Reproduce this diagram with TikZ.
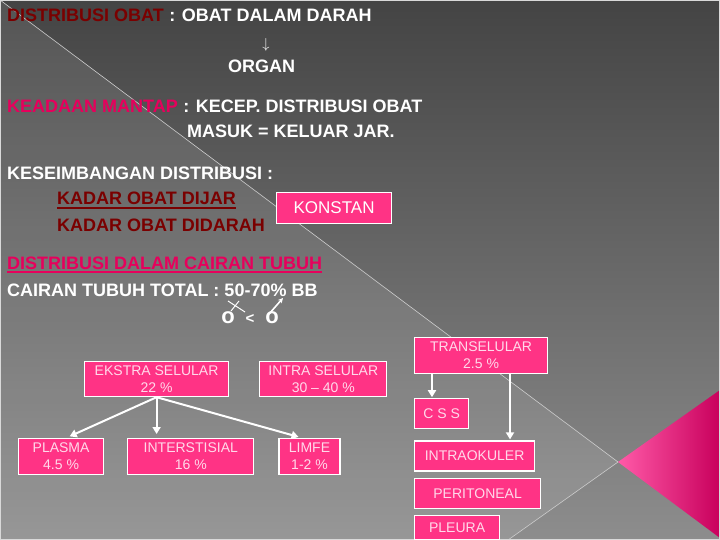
\documentclass[tikz,border=0pt]{standalone}
\usepackage{fontspec}
\setmainfont{Liberation Sans}
\usetikzlibrary{positioning,arrows.meta}
\definecolor{bgtop}{HTML}{444444}
\definecolor{bgbot}{HTML}{8D8D8D}
\definecolor{darkred}{HTML}{7A0000}
\definecolor{hotpink}{HTML}{E6005C}
\definecolor{boxpink}{HTML}{FF3385}
\definecolor{boxtext}{HTML}{FFD9EA}
\definecolor{tripink}{HTML}{FF5AA8}
\definecolor{trideep}{HTML}{C8005C}
\tikzset{
  headtxt/.style={font=\fontsize{18}{18}\selectfont\bfseries, text=white, inner sep=0pt, anchor=base west},
  pinkbox/.style={draw=white, line width=1.2pt, fill=boxpink, text=boxtext, font=\fontsize{14}{17}\selectfont, align=center, inner sep=0pt, anchor=north west},
  arr/.style={draw=white, line width=2pt, -{Triangle[length=7pt,width=8pt]}, shorten >=4pt}
}
\begin{document}
\begin{tikzpicture}[x=1pt,y=-1pt]
\useasboundingbox (0,0) rectangle (720,540);
\shade[top color=bgtop, bottom color=bgbot] (0,0) rectangle (720,540);
\fill[white, opacity=0.09] (0,0) -- (618,462) -- (508,540) -- (0,540) -- cycle;
\draw[gray!40!white, line width=0.6pt] (0,0) -- (618,462) -- (508,540);
\shade[left color=tripink, right color=trideep] (618,462) -- (720,390) -- (720,538) -- cycle;
\draw[gray!30!white, line width=1.5pt] (0,0) rectangle (720,540);

\node[headtxt, text=darkred] (dobat) at (7,22) {DISTRIBUSI OBAT};
\node[headtxt, base right=0pt of dobat] (darah) {\ : OBAT DALAM DARAH};
\node[text=white, font=\fontsize{14}{14}\selectfont, inner sep=0pt] (panah) at (266,45) {$\downarrow$};
\node[headtxt] (organ) at (228,73) {ORGAN};
\node[headtxt, text=hotpink] (mantap) at (7,113) {KEADAAN MANTAP};
\node[headtxt, base right=0pt of mantap] (kecep) {\ : KECEP. DISTRIBUSI OBAT};
\node[headtxt] (masuk) at (187,138) {MASUK = KELUAR JAR.};
\node[headtxt] (seimbang) at (7,180) {KESEIMBANGAN DISTRIBUSI :};
\node[headtxt, text=darkred] (dijar) at (57,205) {KADAR OBAT DIJAR};
\node[headtxt, text=darkred] (didarah) at (57,231) {KADAR OBAT DIDARAH};
\node[pinkbox, text=white, font=\fontsize{17}{17}\selectfont, minimum width=115pt, minimum height=31pt] (konstan) at (276,192) {KONSTAN};
\node[headtxt, text=hotpink] (cairan) at (7,269) {DISTRIBUSI DALAM CAIRAN TUBUH};
\node[headtxt] (total) at (7,296) {CAIRAN TUBUH TOTAL : 50-70\% BB};
\node[headtxt, anchor=center, font=\fontsize{22}{22}\selectfont\bfseries] (venus) at (228,318) {o};
\node[headtxt, anchor=center, font=\fontsize{15}{15}\selectfont\bfseries] (kurang) at (250,319) {<};
\node[headtxt, anchor=center, font=\fontsize{22}{22}\selectfont\bfseries] (mars) at (272,318) {o};
\draw[white, line width=1pt] ([shift={(0,-17)}]venus.center) -- ([shift={(17,-6)}]venus.center)
  ([shift={(3,-7)}]venus.center) -- ([shift={(11,-17)}]venus.center);
\draw[white, line width=1.6pt, -{Stealth[length=5pt,width=5pt]}] ([shift={(-3,-4)}]mars.center) -- ([shift={(11,-20)}]mars.center);
\draw[darkred, line width=1.5pt] ([yshift=-3pt]dijar.base west) -- ([yshift=-3pt]dijar.base east);
\draw[hotpink, line width=1.5pt] ([yshift=-3pt]cairan.base west) -- ([yshift=-3pt]cairan.base east);

\node[pinkbox, minimum width=144pt, minimum height=35pt] (ekstra) at (84,361) {EKSTRA SELULAR\\22 \%};
\node[pinkbox, minimum width=127pt, minimum height=35pt, right=30pt of ekstra] (intra) {INTRA SELULAR\\30 – 40 \%};
\node[pinkbox, minimum width=133pt, minimum height=36pt] (transel) at (414,337) {TRANSELULAR\\2.5 \%};
\node[pinkbox, minimum width=54pt, minimum height=30pt, below=24pt of transel.south west, anchor=north west] (css) {C S S};
\node[pinkbox, minimum width=120pt, minimum height=30pt, below=11pt of css.south west, anchor=north west] (okuler) {INTRAOKULER};
\node[pinkbox, minimum width=126pt, minimum height=30pt, below=6pt of okuler.south west, anchor=north west] (perit) {PERITONEAL};
\node[pinkbox, minimum width=85pt, minimum height=24pt, below=6pt of perit.south west, anchor=north west] (pleura) {PLEURA};
\node[pinkbox, minimum width=85pt, minimum height=36pt] (plasma) at (18,438) {PLASMA\\4.5 \%};
\node[pinkbox, minimum width=126pt, minimum height=36pt, right=23pt of plasma] (inter) {INTERSTISIAL\\16 \%};
\node[pinkbox, minimum width=61pt, minimum height=36pt, right=24pt of inter] (limfe) {LIMFE\\1-2 \%};

\draw[arr] (ekstra.south) -- ([xshift=48pt]plasma.north west);
\draw[arr] (ekstra.south) -- (ekstra.south |- inter.north);
\draw[arr] (ekstra.south) -- ([xshift=24pt]limfe.north west);
\draw[arr, shorten >=1pt] ([xshift=18pt]transel.south west) -- ([xshift=18pt]css.north west);
\draw[arr, shorten >=1pt] ([xshift=96pt]transel.south west) -- ([xshift=96pt]okuler.north west);
\end{tikzpicture}
\end{document}
